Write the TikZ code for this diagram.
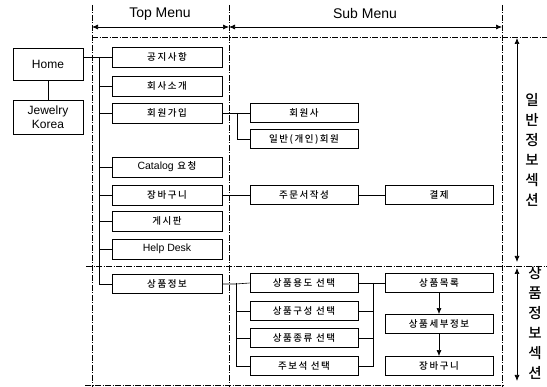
\documentclass[tikz,border=0pt]{standalone}
\usepackage{fontspec}
\setmainfont{Liberation Sans}
\newfontfamily\kr[LetterSpace=16]{Noto Sans CJK KR Medium}
\newfontfamily\krv{Noto Sans CJK KR Medium}
\usetikzlibrary{arrows.meta}
\tikzset{
  box/.style={draw, line width=0.9pt, minimum width=110pt, minimum height=20pt, inner sep=0pt,
    font=\kr\fontsize{9.5}{10}\selectfont},
  subbox/.style={box, minimum width=108pt, minimum height=19pt},
  homebox/.style={draw, line width=0.9pt, minimum width=70pt, inner sep=0pt, align=center,
    font=\fontsize{12}{14}\selectfont},
  conn/.style={line width=0.6pt},
  frame/.style={line width=0.55pt, dash pattern=on 6pt off 1.5pt on 1pt off 1.5pt},
  dim/.style={line width=0.7pt, {Latex[length=6pt,width=5pt]}-{Latex[length=6pt,width=5pt]}},
  arr/.style={conn, -{Latex[length=6pt,width=5pt]}},
  head/.style={font=\fontsize{14}{16}\selectfont},
  vtext/.style={align=center, font=\krv\fontsize{14.5}{20}\selectfont}
}
\newcommand{\lat}[1]{{\rmfamily\fontsize{10.5}{11}\selectfont #1}}
\begin{document}
\begin{tikzpicture}[x=1pt,y=-1pt]
\useasboundingbox (0,0) rectangle (547,387);
% frame
\draw[frame] (92,5) -- (92,387);
\draw[frame] (229,5) -- (229,387);
\draw[frame] (502,5) -- (502,387);
\draw[frame] (92,37) -- (547,37);
\draw[frame] (86,266) -- (547,266);
\draw[frame] (85,385) -- (503,385);
\draw[dim] (92,27) -- (229,27);
\draw[dim] (229,27) -- (502,27);
\node[head] (th) at (160,14) {Top Menu};
\node[head] (sh) at (365,14) {Sub Menu};
\draw[dim] (517,38) -- (517,262);
\draw[dim] (517,268) -- (517,381);
\node[vtext] (v1) at (532,150) {일\\반\\정\\보\\섹\\션};
\node[vtext] (v2) at (535,323) {상\\품\\정\\보\\섹\\션};
% left
\node[homebox, minimum height=32pt] (home) at (48,64) {Home};
\node[homebox, minimum height=34pt] (jk) at (48,117) {Jewelry\\Korea};
\draw[conn] (home) -- (jk);
% top menu
\node[box] (n1) at (167,57) {공지사항};
\node[box] (n2) at (167,86) {회사소개};
\node[box] (n3) at (167,113) {회원가입};
\node[box] (n4) at (167,167) {\lat{Catalog} 요청};
\node[box] (n5) at (167,195) {장바구니};
\node[box] (n6) at (167,221) {게시판};
\node[box] (n7) at (167,249) {\lat{Help Desk}};
\node[box, minimum height=19pt] (n8) at (167,284) {상품정보};
\coordinate (trunk) at (99,57);
\draw[conn] (home.east |- n1.west) -- (n1.west);
\draw[conn] (trunk) |- (n8.west);
\foreach \n in {n2,n3,n4,n5,n6,n7} \draw[conn] (trunk |- \n.west) -- (\n.west);
% sub menu
\node[subbox] (s1) at (304,113) {회원사};
\node[subbox] (s2) at (304,139) {일반(개인)회원};
\node[subbox] (s3) at (304,195) {주문서작성};
\node[subbox] (s4) at (439,195) {결제};
\coordinate (b1) at (237,113);
\draw[conn] (n3.east) -- (s1.west);
\draw[conn] (b1) |- (s2.west);
\draw[conn] (n5.east) -- (s3.west);
\draw[conn] (s3.east) -- (s4.west);
% product section
\node[subbox] (p1) at (304,283) {상품용도 선택};
\node[subbox] (p2) at (304,311) {상품구성 선택};
\node[subbox] (p3) at (304,338) {상품종류 선택};
\node[subbox] (p4) at (304,366) {주보석 선택};
\node[subbox] (q1) at (439,283) {상품목록};
\node[subbox] (q2) at (439,324) {상품세부정보};
\node[subbox] (q3) at (439,366) {장바구니};
\coordinate (b2) at (236,283);
\coordinate (b3) at (373,283);
\draw[conn] (n8.east) -- (b2 |- n8.east) -- (p1.west);
\draw[conn] (b2) |- (p4.west);
\draw[conn] (b2 |- p2.west) -- (p2.west);
\draw[conn] (b2 |- p3.west) -- (p3.west);
\draw[conn] (p1.east) -- (q1.west);
\draw[conn] (b3) |- (p4.east);
\draw[conn] (p2.east) -- (b3 |- p2.east);
\draw[conn] (p3.east) -- (b3 |- p3.east);
\draw[arr] (q1) -- (q2);
\draw[arr] (q2) -- (q3);
\end{tikzpicture}
\end{document}
